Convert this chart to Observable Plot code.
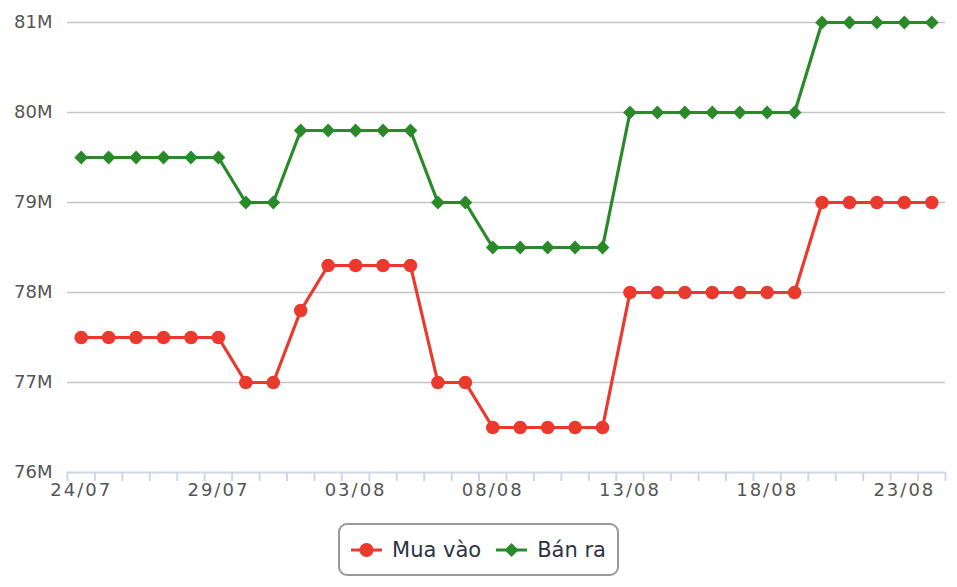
<!DOCTYPE html>
<html>
<head>
<meta charset="utf-8">
<script src="https://cdn.jsdelivr.net/npm/d3@7"></script>
<script src="https://cdn.jsdelivr.net/npm/@observablehq/plot@0.6"></script>
<style>
  html, body { margin: 0; padding: 0; background: #fff; }
  #chart { width: 957px; }
  .legend-wrap { width: 957px; display: flex; justify-content: center; margin-top: 18px; }
  .legend { box-sizing: border-box; width: 281px; height: 53px; border: 2px solid #999; border-radius: 9px;
            display: flex; align-items: center; justify-content: center; gap: 15px;
            font-family: "DejaVu Sans", sans-serif; font-size: 21px; color: #2b3444; }
  .item { display: flex; align-items: center; gap: 10px; }
  .item svg { display: block; }
</style>
</head>
<body>
<div id="chart"></div>
<div class="legend-wrap"><div class="legend" id="legend"></div></div>
<script>
const dates = ["24/07","25/07","26/07","27/07","28/07","29/07","30/07","31/07",
  "01/08","02/08","03/08","04/08","05/08","06/08","07/08","08/08","09/08","10/08",
  "11/08","12/08","13/08","14/08","15/08","16/08","17/08","18/08","19/08","20/08",
  "21/08","22/08","23/08","24/08"];
const buy = [77.5,77.5,77.5,77.5,77.5,77.5,77.0,77.0,
  77.8,78.3,78.3,78.3,78.3,77.0,77.0,76.5,76.5,76.5,
  76.5,76.5,78.0,78.0,78.0,78.0,78.0,78.0,78.0,79.0,
  79.0,79.0,79.0,79.0];
const sell = [79.5,79.5,79.5,79.5,79.5,79.5,79.0,79.0,
  79.8,79.8,79.8,79.8,79.8,79.0,79.0,78.5,78.5,78.5,
  78.5,78.5,80.0,80.0,80.0,80.0,80.0,80.0,80.0,81.0,
  81.0,81.0,81.0,81.0];
const yTicks = [76, 77, 78, 79, 80, 81];
const seriesNames = ["Mua vào", "Bán ra"];
const RED = "#ea3a2d", GREEN = "#2a8a2a";

const n = dates.length;
const data = dates.map((d, i) => ({i, date: d, buy: buy[i], sell: sell[i]}));
const boundaries = d3.range(n + 1).map(k => k - 0.5);
const labelIdx = d3.range(0, n, 5);

const chart = Plot.plot({
  width: 957, height: 505,
  marginLeft: 67, marginRight: 12, marginTop: 22, marginBottom: 33,
  style: {fontFamily: "DejaVu Sans, sans-serif", fontSize: "18px", color: "#555", background: "#fff"},
  x: {type: "linear", domain: [-0.5, n - 0.5]},
  y: {domain: [76, 81]},
  marks: [
    Plot.gridY(yTicks.slice(1), {stroke: "#c4c4c4", strokeOpacity: 1, strokeWidth: 1.5}),
    Plot.ruleY([76], {stroke: "#ccd6eb", strokeWidth: 2}),
    Plot.axisX({ticks: boundaries, tickSize: 9, tickFormat: () => "", stroke: "#ccd6eb", strokeWidth: 2, label: null}),
    Plot.axisX({ticks: labelIdx, tickSize: 0, tickPadding: 11, tickFormat: i => dates[i], label: null, fontSize: 18}),
    Plot.axisY({ticks: yTicks, tickSize: 0, tickPadding: 15, tickFormat: d => d + "M", label: null, fontSize: 18}),
    Plot.line(data, {x: "i", y: "sell", stroke: GREEN, strokeWidth: 3.2}),
    Plot.dot(data, {x: "i", y: "sell", fill: GREEN, symbol: "diamond2", r: 6.2}),
    Plot.line(data, {x: "i", y: "buy", stroke: RED, strokeWidth: 3.2}),
    Plot.dot(data, {x: "i", y: "buy", fill: RED, r: 6.8})
  ]
});
document.getElementById("chart").appendChild(chart);
chart.querySelectorAll("text").forEach(t => {
  if (t.textContent.includes("/")) {
    t.setAttribute("letter-spacing", "2");
    t.style.letterSpacing = "2px";
  }
});

const legend = document.getElementById("legend");
const svgNS = "http://www.w3.org/2000/svg";
[[seriesNames[0], RED, "circle"], [seriesNames[1], GREEN, "diamond"]].forEach(([name, color, shape]) => {
  const item = document.createElement("span");
  item.className = "item";
  const s = document.createElementNS(svgNS, "svg");
  s.setAttribute("width", 31); s.setAttribute("height", 16);
  const ln = document.createElementNS(svgNS, "line");
  ln.setAttribute("x1", 0); ln.setAttribute("x2", 31); ln.setAttribute("y1", 8); ln.setAttribute("y2", 8);
  ln.setAttribute("stroke", color); ln.setAttribute("stroke-width", 3);
  s.appendChild(ln);
  let m;
  if (shape === "circle") {
    m = document.createElementNS(svgNS, "circle");
    m.setAttribute("cx", 15.5); m.setAttribute("cy", 8); m.setAttribute("r", 7);
  } else {
    m = document.createElementNS(svgNS, "path");
    m.setAttribute("d", "M15.5,1 L22.5,8 L15.5,15 L8.5,8 Z");
  }
  m.setAttribute("fill", color);
  s.appendChild(m);
  item.appendChild(s);
  const t = document.createElement("span");
  t.textContent = name;
  item.appendChild(t);
  legend.appendChild(item);
});
</script>
</body>
</html>
